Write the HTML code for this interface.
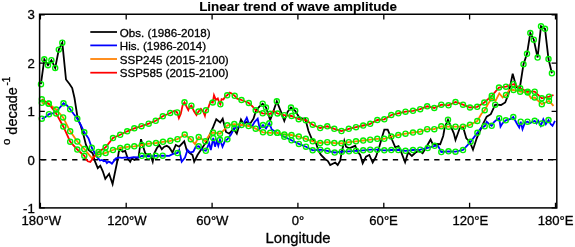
<!DOCTYPE html>
<html><head><meta charset="utf-8"><title>Linear trend of wave amplitude</title>
<style>
html,body{margin:0;padding:0;background:#fff;}
body{width:575px;height:247px;position:relative;overflow:hidden;font-family:"Liberation Sans",sans-serif;}
.t{font-family:"Liberation Sans",sans-serif;fill:#000;stroke:#000;stroke-width:0.3px;}
</style></head><body>
<svg width="575" height="247" viewBox="0 0 575 247" style="position:absolute;left:0;top:0;filter:blur(0.35px)">
<rect width="575" height="247" fill="#fff"/>
<line x1="41.1" y1="159.75" x2="556.8" y2="159.75" stroke="#000" stroke-width="1.7" stroke-dasharray="5.3 5.045"/>
<polyline points="40.9,84.2 44.3,59.3 48.0,65.2 51.4,60.2 55.2,68.0 58.8,49.6 62.3,42.7 66.0,79.5 69.5,84.0 72.2,88.0 74.5,98.0 77.6,118.0 80.5,125.0 83.5,135.0 86.0,145.0 88.5,150.0 92.7,153.3 94.7,160.6 97.8,168.2 100.3,165.7 102.8,171.3 105.3,178.8 109.1,173.8 112.6,184.0 114.7,173.8 117.3,161.3 118.8,151.7 120.2,149.2 122.7,151.7 125.2,150.8 127.7,158.3 130.2,161.7 131.8,158.3 134.3,160.0 136.8,158.3 138.5,157.5 141.0,139.2 142.7,145.0 145.2,153.3 147.7,155.0 150.2,154.2 152.7,161.7 154.3,153.3 156.8,148.3 159.3,145.0 161.8,149.2 164.3,146.7 166.8,145.8 169.3,147.5 172.5,152.5 175.8,145.0 179.2,146.7 184.2,141.3 186.7,150.0 189.2,152.5 192.5,155.0 194.2,161.7 197.5,155.0 200.8,150.0 204.2,145.0 207.5,140.8 210.0,134.2 213.3,126.7 216.3,119.2 220.2,122.5 222.7,118.7 226.0,132.0 229.3,133.7 233.5,128.7 236.8,133.7 241.0,119.5 243.5,123.7 246.8,122.0 250.2,123.7 253.5,118.7 256.0,110.8 259.3,106.7 262.7,103.7 266.0,107.5 270.2,120.0 272.7,113.3 276.8,101.3 281.0,111.7 284.3,120.8 287.7,111.7 291.0,107.5 295.2,110.8 299.3,117.5 302.7,118.7 305.2,118.5 308.5,131.0 311.4,138.0 316.0,143.0 318.5,150.8 321.0,155.0 325.2,159.2 327.7,160.8 330.2,165.0 335.2,162.5 337.7,165.0 340.2,160.8 341.8,151.7 344.3,140.8 346.0,146.7 349.3,148.3 355.2,145.8 357.7,151.7 360.2,155.0 362.7,163.3 366.0,156.7 369.3,155.0 372.7,162.5 376.0,156.7 379.3,146.7 382.7,135.0 384.3,129.7 387.7,129.7 391.5,138.5 395.3,147.3 398.5,146.2 401.6,153.2 405.1,162.3 408.1,152.4 411.9,156.0 415.3,152.8 418.9,150.8 422.6,153.3 425.8,148.0 430.6,139.5 432.6,143.8 436.5,144.0 440.2,144.2 443.2,136.0 444.7,127.5 448.0,119.7 453.8,133.3 455.5,140.0 459.7,128.3 463.0,126.7 466.3,138.3 469.7,141.7 473.0,149.7 476.7,138.3 481.3,128.0 483.3,123.3 486.7,116.7 490.8,114.2 495.2,104.7 501.0,105.0 505.2,102.5 508.5,94.0 512.7,73.8 516.3,87.0 519.8,88.0 523.5,64.2 527.0,53.8 530.3,33.0 533.8,39.7 537.6,57.5 541.0,26.3 545.0,28.8 548.5,59.0 551.9,73.3" fill="none" stroke="#000" stroke-width="1.8" stroke-linejoin="miter"/>
<polyline points="41.8,118.7 45.5,117.0 49.0,114.2 52.5,113.5 56.0,112.0 59.5,108.0 63.5,103.3 67.0,105.5 70.2,109.2 73.7,114.0 77.3,118.7 80.8,125.0 84.3,132.3 88.5,138.3 91.8,147.8 93.5,150.8 96.8,156.7 100.0,160.5 101.9,160.0 103.8,161.3 105.3,160.6 106.9,163.0 108.2,161.8 109.4,161.9 110.6,162.6 111.9,163.7 113.8,161.1 115.6,158.6 118.8,157.4 122.0,157.8 126.0,157.4 129.3,158.0 133.5,157.2 138.5,157.5 141.8,155.8 148.5,156.3 155.7,155.8 162.7,155.7 169.2,155.8 172.5,154.2 177.5,153.0 179.2,150.0 181.7,161.7 185.0,157.5 187.5,150.0 190.0,152.5 193.3,151.7 195.8,146.7 198.7,146.3 202.5,150.0 205.8,150.8 209.2,143.3 210.8,150.0 213.3,138.0 215.0,146.7 216.7,140.8 218.3,145.8 220.0,139.8 222.5,146.7 225.0,140.8 227.4,139.3 231.0,134.5 234.3,128.3 238.0,127.0 241.5,125.3 244.0,123.0 246.8,117.8 249.3,124.5 251.8,127.0 254.5,122.0 257.7,118.7 259.7,128.7 263.0,125.0 266.0,128.5 269.3,123.3 271.8,129.5 277.3,132.8 284.3,136.7 291.5,140.3 298.9,143.9 306.0,146.7 312.7,150.3 320.2,149.7 327.3,150.8 334.7,152.5 341.8,151.7 349.0,151.3 356.0,150.8 363.2,150.3 370.2,149.7 377.3,149.7 384.3,150.3 391.3,150.0 398.3,150.0 405.5,150.8 413.0,150.0 420.2,149.7 427.7,148.0 434.7,145.8 438.0,145.8 441.3,152.0 448.5,151.3 455.5,151.7 463.0,150.0 470.6,141.8 477.4,132.8 481.0,128.0 484.7,126.3 486.7,121.7 489.0,124.0 491.7,125.8 494.0,122.0 497.0,119.5 499.2,118.3 500.5,126.7 502.5,123.3 505.8,120.3 510.0,119.2 513.3,117.0 516.7,123.3 519.2,127.5 520.7,121.7 522.5,129.2 525.0,122.5 527.5,121.7 530.0,123.3 532.0,122.0 534.7,120.8 536.5,123.5 538.3,120.8 540.8,125.8 543.3,119.2 545.8,124.2 548.5,120.0 550.8,124.2 552.5,125.8 555.0,120.8" fill="none" stroke="#0000ff" stroke-width="1.8" stroke-linejoin="miter"/>
<polyline points="41.8,102.8 48.7,103.8 56.2,109.5 63.1,117.4 70.2,131.3 77.3,141.5 84.3,149.0 91.8,158.0 98.5,154.5 105.6,153.0 113.0,150.0 120.2,148.0 127.3,146.8 134.3,146.3 141.8,145.0 148.8,143.7 156.0,143.0 163.0,141.8 170.3,140.8 177.5,139.2 184.7,134.5 190.8,139.2 195.0,144.2 198.7,137.0 205.3,141.3 210.0,134.2 213.0,132.5 220.0,133.7 224.2,130.0 227.4,125.3 234.3,124.1 241.5,125.0 248.6,126.0 255.7,128.7 263.0,132.3 270.2,132.8 277.3,132.8 284.3,134.5 291.5,135.0 298.8,136.5 305.8,138.8 312.7,141.3 320.2,143.0 327.3,142.2 334.3,143.0 341.5,143.3 348.8,142.2 356.0,141.3 363.2,140.5 370.2,139.7 377.3,138.8 384.3,138.8 391.3,136.5 398.3,135.0 405.5,133.7 413.0,132.5 420.2,131.7 427.2,129.2 434.3,129.2 441.3,126.3 448.5,126.7 455.5,126.7 463.0,126.7 470.0,124.8 477.3,121.0 481.3,114.0 484.7,110.2 488.0,104.0 491.8,98.3 495.5,101.0 499.3,93.3 502.7,97.5 506.0,95.0 509.3,90.0 513.5,90.0 520.2,91.7 527.7,92.5 531.0,98.3 534.7,97.5 541.8,104.2 549.0,100.8 553.5,105.8" fill="none" stroke="#ff7f00" stroke-width="1.8" stroke-linejoin="miter"/>
<polyline points="41.8,99.3 48.7,103.6 56.2,113.5 63.3,126.5 70.2,141.7 77.3,149.5 84.3,155.8 86.3,159.5 87.8,161.3 90.3,161.9 92.8,158.8 94.0,156.5 98.5,152.0 105.6,147.3 113.0,138.0 120.2,134.8 127.2,131.3 134.3,128.3 141.5,126.2 148.7,123.7 155.7,120.8 162.8,116.3 170.2,113.0 174.5,110.8 177.2,112.4 178.9,118.2 180.8,113.8 182.7,105.1 184.5,102.3 186.4,106.3 188.3,110.1 189.6,106.9 191.4,105.7 194.0,111.3 196.5,115.1 198.5,111.6 200.9,108.8 203.4,112.0 204.9,115.7 205.9,110.3 208.4,107.6 210.3,101.8 212.8,102.5 214.0,95.3 215.9,99.8 217.8,98.5 219.4,103.0 220.4,104.3 221.6,99.0 223.4,99.5 225.3,96.5 227.2,95.3 229.7,92.7 232.2,93.8 234.7,95.8 237.2,98.6 241.5,100.0 248.8,103.0 252.7,106.7 255.7,110.3 262.7,113.3 270.2,113.8 273.5,111.0 277.5,113.5 284.3,115.2 291.6,116.0 298.7,119.2 305.8,120.2 312.7,124.7 320.2,128.0 327.3,126.3 334.3,128.8 341.5,131.0 348.8,128.8 356.0,127.2 363.2,125.5 370.2,123.8 377.3,120.0 384.3,119.3 391.3,115.0 398.3,113.3 405.5,111.7 413.0,110.8 420.2,109.2 427.2,106.3 434.3,108.0 441.3,104.7 448.5,105.3 455.5,102.0 463.0,104.7 470.0,107.5 477.2,106.8 484.3,102.5 491.8,95.8 499.0,87.5 506.0,86.7 513.5,84.2 520.2,88.3 527.7,91.7 534.7,91.7 541.8,98.3 549.0,96.7 553.5,95.0" fill="none" stroke="#ff0000" stroke-width="1.8" stroke-linejoin="miter"/>
<g fill="none" stroke="#00f000" stroke-width="1.35">
<circle cx="41.0" cy="84.2" r="2.55"/>
<circle cx="44.3" cy="59.3" r="2.55"/>
<circle cx="48.0" cy="65.2" r="2.55"/>
<circle cx="51.4" cy="60.2" r="2.55"/>
<circle cx="55.2" cy="68.0" r="2.55"/>
<circle cx="58.8" cy="49.6" r="2.55"/>
<circle cx="62.3" cy="42.7" r="2.55"/>
<circle cx="262.7" cy="103.7" r="2.55"/>
<circle cx="266.0" cy="107.5" r="2.55"/>
<circle cx="276.8" cy="101.3" r="2.55"/>
<circle cx="291.0" cy="107.5" r="2.55"/>
<circle cx="295.2" cy="110.8" r="2.55"/>
<circle cx="448.0" cy="119.7" r="2.55"/>
<circle cx="495.2" cy="104.7" r="2.55"/>
<circle cx="523.5" cy="64.2" r="2.55"/>
<circle cx="527.0" cy="53.8" r="2.55"/>
<circle cx="530.3" cy="33.0" r="2.55"/>
<circle cx="533.8" cy="39.7" r="2.55"/>
<circle cx="537.6" cy="57.5" r="2.55"/>
<circle cx="541.0" cy="26.3" r="2.55"/>
<circle cx="545.0" cy="28.8" r="2.55"/>
<circle cx="548.5" cy="59.0" r="2.55"/>
<circle cx="551.9" cy="73.3" r="2.55"/>
<circle cx="41.8" cy="99.3" r="2.55"/>
<circle cx="48.7" cy="103.6" r="2.55"/>
<circle cx="56.2" cy="113.5" r="2.55"/>
<circle cx="63.3" cy="126.5" r="2.55"/>
<circle cx="70.2" cy="141.7" r="2.55"/>
<circle cx="77.3" cy="149.5" r="2.55"/>
<circle cx="84.3" cy="155.8" r="2.55"/>
<circle cx="98.5" cy="152.0" r="2.55"/>
<circle cx="105.6" cy="147.3" r="2.55"/>
<circle cx="113.0" cy="138.0" r="2.55"/>
<circle cx="120.2" cy="134.8" r="2.55"/>
<circle cx="127.2" cy="131.3" r="2.55"/>
<circle cx="134.3" cy="128.3" r="2.55"/>
<circle cx="141.5" cy="126.2" r="2.55"/>
<circle cx="148.7" cy="123.7" r="2.55"/>
<circle cx="155.7" cy="120.8" r="2.55"/>
<circle cx="162.8" cy="116.3" r="2.55"/>
<circle cx="170.2" cy="113.0" r="2.55"/>
<circle cx="177.2" cy="112.4" r="2.55"/>
<circle cx="184.5" cy="102.3" r="2.55"/>
<circle cx="191.4" cy="105.7" r="2.55"/>
<circle cx="198.5" cy="111.6" r="2.55"/>
<circle cx="205.9" cy="110.3" r="2.55"/>
<circle cx="212.8" cy="102.5" r="2.55"/>
<circle cx="220.4" cy="104.3" r="2.55"/>
<circle cx="227.2" cy="95.3" r="2.55"/>
<circle cx="234.7" cy="95.8" r="2.55"/>
<circle cx="241.5" cy="100.0" r="2.55"/>
<circle cx="248.8" cy="103.0" r="2.55"/>
<circle cx="255.7" cy="110.3" r="2.55"/>
<circle cx="262.7" cy="113.3" r="2.55"/>
<circle cx="270.2" cy="113.8" r="2.55"/>
<circle cx="277.5" cy="113.5" r="2.55"/>
<circle cx="284.3" cy="115.2" r="2.55"/>
<circle cx="291.6" cy="116.0" r="2.55"/>
<circle cx="298.7" cy="119.2" r="2.55"/>
<circle cx="305.8" cy="120.2" r="2.55"/>
<circle cx="312.7" cy="124.7" r="2.55"/>
<circle cx="320.2" cy="128.0" r="2.55"/>
<circle cx="327.3" cy="126.3" r="2.55"/>
<circle cx="334.3" cy="128.8" r="2.55"/>
<circle cx="341.5" cy="131.0" r="2.55"/>
<circle cx="348.8" cy="128.8" r="2.55"/>
<circle cx="356.0" cy="127.2" r="2.55"/>
<circle cx="363.2" cy="125.5" r="2.55"/>
<circle cx="370.2" cy="123.8" r="2.55"/>
<circle cx="377.3" cy="120.0" r="2.55"/>
<circle cx="384.3" cy="119.3" r="2.55"/>
<circle cx="391.3" cy="115.0" r="2.55"/>
<circle cx="398.3" cy="113.3" r="2.55"/>
<circle cx="405.5" cy="111.7" r="2.55"/>
<circle cx="413.0" cy="110.8" r="2.55"/>
<circle cx="420.2" cy="109.2" r="2.55"/>
<circle cx="427.2" cy="106.3" r="2.55"/>
<circle cx="434.3" cy="108.0" r="2.55"/>
<circle cx="441.3" cy="104.7" r="2.55"/>
<circle cx="448.5" cy="105.3" r="2.55"/>
<circle cx="455.5" cy="102.0" r="2.55"/>
<circle cx="463.0" cy="104.7" r="2.55"/>
<circle cx="470.0" cy="107.5" r="2.55"/>
<circle cx="477.2" cy="106.8" r="2.55"/>
<circle cx="484.3" cy="102.5" r="2.55"/>
<circle cx="491.8" cy="95.8" r="2.55"/>
<circle cx="499.0" cy="87.5" r="2.55"/>
<circle cx="506.0" cy="86.7" r="2.55"/>
<circle cx="513.5" cy="84.2" r="2.55"/>
<circle cx="520.2" cy="88.3" r="2.55"/>
<circle cx="527.7" cy="91.7" r="2.55"/>
<circle cx="534.7" cy="91.7" r="2.55"/>
<circle cx="541.8" cy="98.3" r="2.55"/>
<circle cx="549.0" cy="96.7" r="2.55"/>
<circle cx="41.8" cy="102.8" r="2.55"/>
<circle cx="48.7" cy="103.8" r="2.55"/>
<circle cx="56.2" cy="109.5" r="2.55"/>
<circle cx="63.1" cy="117.4" r="2.55"/>
<circle cx="70.2" cy="131.3" r="2.55"/>
<circle cx="77.3" cy="141.5" r="2.55"/>
<circle cx="84.3" cy="149.0" r="2.55"/>
<circle cx="98.5" cy="154.5" r="2.55"/>
<circle cx="105.6" cy="153.0" r="2.55"/>
<circle cx="113.0" cy="150.0" r="2.55"/>
<circle cx="120.2" cy="148.0" r="2.55"/>
<circle cx="127.3" cy="146.8" r="2.55"/>
<circle cx="134.3" cy="146.3" r="2.55"/>
<circle cx="141.8" cy="145.0" r="2.55"/>
<circle cx="148.8" cy="143.7" r="2.55"/>
<circle cx="156.0" cy="143.0" r="2.55"/>
<circle cx="163.0" cy="141.8" r="2.55"/>
<circle cx="170.3" cy="140.8" r="2.55"/>
<circle cx="177.5" cy="139.2" r="2.55"/>
<circle cx="184.7" cy="134.5" r="2.55"/>
<circle cx="190.8" cy="139.2" r="2.55"/>
<circle cx="198.7" cy="137.0" r="2.55"/>
<circle cx="205.3" cy="141.3" r="2.55"/>
<circle cx="213.0" cy="132.5" r="2.55"/>
<circle cx="220.0" cy="133.7" r="2.55"/>
<circle cx="227.4" cy="125.3" r="2.55"/>
<circle cx="234.3" cy="124.1" r="2.55"/>
<circle cx="241.5" cy="125.0" r="2.55"/>
<circle cx="248.6" cy="126.0" r="2.55"/>
<circle cx="255.7" cy="128.7" r="2.55"/>
<circle cx="263.0" cy="132.3" r="2.55"/>
<circle cx="270.2" cy="132.8" r="2.55"/>
<circle cx="277.3" cy="132.8" r="2.55"/>
<circle cx="284.3" cy="134.5" r="2.55"/>
<circle cx="291.5" cy="135.0" r="2.55"/>
<circle cx="298.8" cy="136.5" r="2.55"/>
<circle cx="305.8" cy="138.8" r="2.55"/>
<circle cx="312.7" cy="141.3" r="2.55"/>
<circle cx="320.2" cy="143.0" r="2.55"/>
<circle cx="327.3" cy="142.2" r="2.55"/>
<circle cx="334.3" cy="143.0" r="2.55"/>
<circle cx="341.5" cy="143.3" r="2.55"/>
<circle cx="348.8" cy="142.2" r="2.55"/>
<circle cx="356.0" cy="141.3" r="2.55"/>
<circle cx="363.2" cy="140.5" r="2.55"/>
<circle cx="370.2" cy="139.7" r="2.55"/>
<circle cx="377.3" cy="138.8" r="2.55"/>
<circle cx="384.3" cy="138.8" r="2.55"/>
<circle cx="391.3" cy="136.5" r="2.55"/>
<circle cx="398.3" cy="135.0" r="2.55"/>
<circle cx="405.5" cy="133.7" r="2.55"/>
<circle cx="413.0" cy="132.5" r="2.55"/>
<circle cx="420.2" cy="131.7" r="2.55"/>
<circle cx="427.2" cy="129.2" r="2.55"/>
<circle cx="434.3" cy="129.2" r="2.55"/>
<circle cx="441.3" cy="126.3" r="2.55"/>
<circle cx="448.5" cy="126.7" r="2.55"/>
<circle cx="455.5" cy="126.7" r="2.55"/>
<circle cx="463.0" cy="126.7" r="2.55"/>
<circle cx="470.0" cy="124.8" r="2.55"/>
<circle cx="477.3" cy="121.0" r="2.55"/>
<circle cx="484.7" cy="110.2" r="2.55"/>
<circle cx="491.8" cy="98.3" r="2.55"/>
<circle cx="506.0" cy="95.0" r="2.55"/>
<circle cx="513.5" cy="90.0" r="2.55"/>
<circle cx="520.2" cy="91.7" r="2.55"/>
<circle cx="527.7" cy="92.5" r="2.55"/>
<circle cx="534.7" cy="97.5" r="2.55"/>
<circle cx="541.8" cy="104.2" r="2.55"/>
<circle cx="549.0" cy="100.8" r="2.55"/>
<circle cx="41.8" cy="118.7" r="2.55"/>
<circle cx="49.0" cy="114.2" r="2.55"/>
<circle cx="63.5" cy="103.3" r="2.55"/>
<circle cx="70.2" cy="109.2" r="2.55"/>
<circle cx="77.3" cy="118.7" r="2.55"/>
<circle cx="84.3" cy="132.3" r="2.55"/>
<circle cx="91.8" cy="147.8" r="2.55"/>
<circle cx="141.8" cy="155.8" r="2.55"/>
<circle cx="148.5" cy="156.3" r="2.55"/>
<circle cx="155.7" cy="155.8" r="2.55"/>
<circle cx="162.7" cy="155.7" r="2.55"/>
<circle cx="177.5" cy="153.0" r="2.55"/>
<circle cx="198.7" cy="146.3" r="2.55"/>
<circle cx="205.8" cy="150.8" r="2.55"/>
<circle cx="213.3" cy="138.0" r="2.55"/>
<circle cx="220.0" cy="139.8" r="2.55"/>
<circle cx="227.4" cy="139.3" r="2.55"/>
<circle cx="234.3" cy="128.3" r="2.55"/>
<circle cx="263.0" cy="125.0" r="2.55"/>
<circle cx="269.3" cy="123.3" r="2.55"/>
<circle cx="277.3" cy="132.8" r="2.55"/>
<circle cx="284.3" cy="136.7" r="2.55"/>
<circle cx="291.5" cy="140.3" r="2.55"/>
<circle cx="298.9" cy="143.9" r="2.55"/>
<circle cx="306.0" cy="146.7" r="2.55"/>
<circle cx="312.7" cy="150.3" r="2.55"/>
<circle cx="320.2" cy="149.7" r="2.55"/>
<circle cx="327.3" cy="150.8" r="2.55"/>
<circle cx="334.7" cy="152.5" r="2.55"/>
<circle cx="341.8" cy="151.7" r="2.55"/>
<circle cx="349.0" cy="151.3" r="2.55"/>
<circle cx="356.0" cy="150.8" r="2.55"/>
<circle cx="363.2" cy="150.3" r="2.55"/>
<circle cx="370.2" cy="149.7" r="2.55"/>
<circle cx="377.3" cy="149.7" r="2.55"/>
<circle cx="384.3" cy="150.3" r="2.55"/>
<circle cx="391.3" cy="150.0" r="2.55"/>
<circle cx="398.3" cy="150.0" r="2.55"/>
<circle cx="405.5" cy="150.8" r="2.55"/>
<circle cx="413.0" cy="150.0" r="2.55"/>
<circle cx="420.2" cy="149.7" r="2.55"/>
<circle cx="427.7" cy="148.0" r="2.55"/>
<circle cx="434.7" cy="145.8" r="2.55"/>
<circle cx="441.3" cy="152.0" r="2.55"/>
<circle cx="448.5" cy="151.3" r="2.55"/>
<circle cx="455.5" cy="151.7" r="2.55"/>
<circle cx="463.0" cy="150.0" r="2.55"/>
<circle cx="470.6" cy="141.8" r="2.55"/>
<circle cx="477.4" cy="132.8" r="2.55"/>
<circle cx="484.7" cy="126.3" r="2.55"/>
<circle cx="491.7" cy="125.8" r="2.55"/>
<circle cx="499.2" cy="118.3" r="2.55"/>
<circle cx="505.8" cy="120.3" r="2.55"/>
<circle cx="513.3" cy="117.0" r="2.55"/>
<circle cx="520.7" cy="121.7" r="2.55"/>
<circle cx="527.5" cy="121.7" r="2.55"/>
<circle cx="534.7" cy="120.8" r="2.55"/>
<circle cx="541.7" cy="123.4" r="2.55"/>
<circle cx="548.5" cy="120.0" r="2.55"/>
</g>
<rect x="39.6" y="14.25" width="517.1999999999999" height="193.65" fill="none" stroke="#000" stroke-width="1.5"/>
<path d="M40.4 207.9 v-5.2 M40.4 14.25 v5.2 M126.2 207.9 v-5.2 M126.2 14.25 v5.2 M212.1 207.9 v-5.2 M212.1 14.25 v5.2 M297.9 207.9 v-5.2 M297.9 14.25 v5.2 M383.8 207.9 v-5.2 M383.8 14.25 v5.2 M469.6 207.9 v-5.2 M469.6 14.25 v5.2 M555.5 207.9 v-5.2 M555.5 14.25 v5.2 M39.6 207.9 h5.2 M556.8 207.9 h-5.2 M39.6 159.7 h5.2 M556.8 159.7 h-5.2 M39.6 111.4 h5.2 M556.8 111.4 h-5.2 M39.6 63.2 h5.2 M556.8 63.2 h-5.2 M39.6 14.9 h5.2 M556.8 14.9 h-5.2" stroke="#000" stroke-width="1.3" fill="none"/>
<line x1="90.3" y1="32.0" x2="117" y2="32.0" stroke="#000" stroke-width="1.75"/>
<text x="119.8" y="36.5" font-size="11.6" class="t">Obs. (1986-2018)</text>
<line x1="90.3" y1="45.4" x2="117" y2="45.4" stroke="#0000ff" stroke-width="1.75"/>
<text x="119.8" y="49.9" font-size="11.6" class="t">His. (1986-2014)</text>
<line x1="90.3" y1="59.0" x2="117" y2="59.0" stroke="#ff7f00" stroke-width="1.75"/>
<text x="119.8" y="63.5" font-size="11.6" class="t">SSP245 (2015-2100)</text>
<line x1="90.3" y1="72.7" x2="117" y2="72.7" stroke="#ff0000" stroke-width="1.75"/>
<text x="119.8" y="77.2" font-size="11.6" class="t">SSP585 (2015-2100)</text>
<text x="41.3" y="224.6" font-size="13.1" text-anchor="middle" class="t">180°W</text>
<text x="127.0" y="224.6" font-size="13.1" text-anchor="middle" class="t">120°W</text>
<text x="212.4" y="224.6" font-size="13.1" text-anchor="middle" class="t">60°W</text>
<text x="298.0" y="224.6" font-size="13.1" text-anchor="middle" class="t">0°</text>
<text x="383.6" y="224.6" font-size="13.1" text-anchor="middle" class="t">60°E</text>
<text x="470.4" y="224.6" font-size="13.1" text-anchor="middle" class="t">120°E</text>
<text x="555.6" y="224.6" font-size="13.1" text-anchor="middle" class="t">180°E</text>
<text x="34.8" y="213.0" font-size="13.2" text-anchor="end" class="t">-1</text>
<text x="34.8" y="164.6" font-size="13.2" text-anchor="end" class="t">0</text>
<text x="34.8" y="116.1" font-size="13.2" text-anchor="end" class="t">1</text>
<text x="34.8" y="67.7" font-size="13.2" text-anchor="end" class="t">2</text>
<text x="34.8" y="19.2" font-size="13.2" text-anchor="end" class="t">3</text>
<text x="298.1" y="10.6" font-size="13.45" font-weight="bold" text-anchor="middle" class="t" style="stroke-width:0.12px">Linear trend of wave amplitude</text>
<text x="298" y="242.7" font-size="14.85" text-anchor="middle" class="t">Longitude</text>
<g transform="translate(17.4,145.1) rotate(-90)"><text x="0" y="0" font-size="14.5" class="t"><tspan font-size="11.5" dy="-7.4">o</tspan><tspan dy="7.4"> decade</tspan><tspan font-size="10" dy="-7.2" dx="1.5">-1</tspan></text></g>
</svg>
</body></html>
